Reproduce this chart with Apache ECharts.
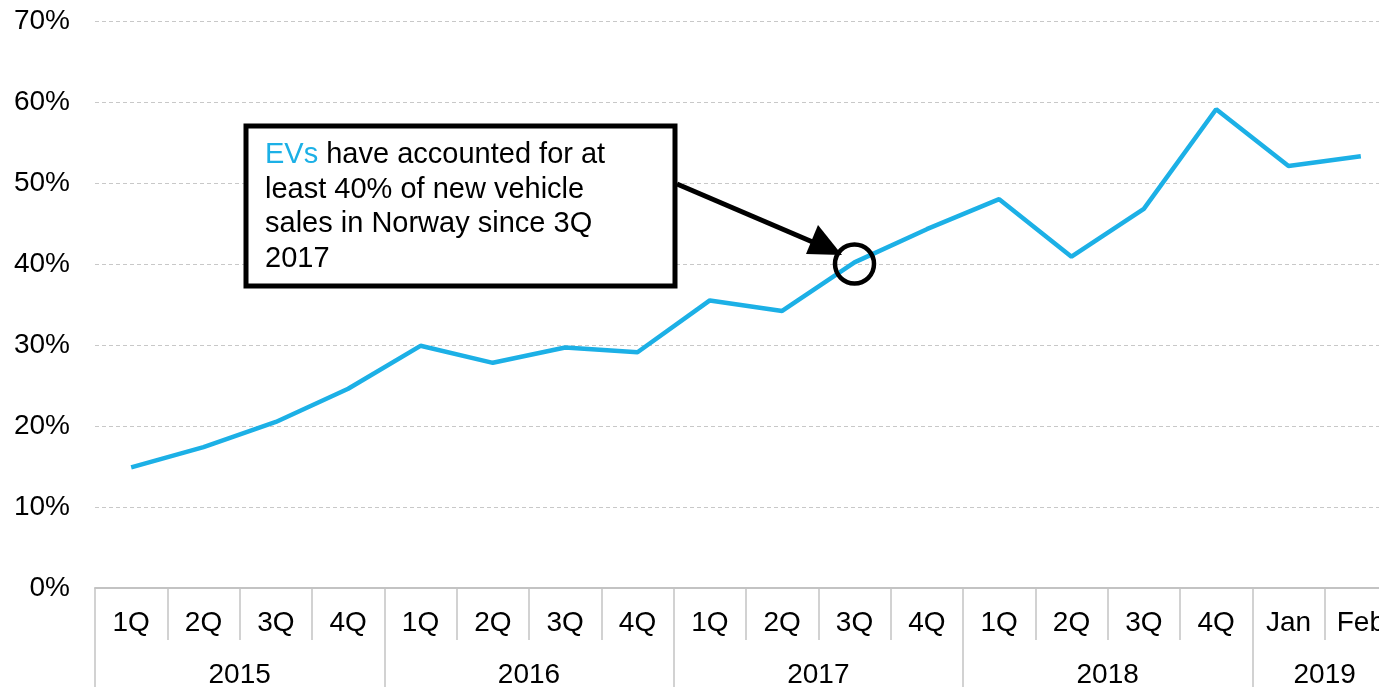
<!DOCTYPE html>
<html>
<head>
<meta charset="utf-8">
<title>EV share of new vehicle sales in Norway</title>
<script src="https://cdn.jsdelivr.net/npm/echarts@6/dist/echarts.min.js"></script>
<style>
  html, body { margin: 0; padding: 0; background: #fff; overflow: hidden; }
  /* wider than the window: the last category is cut off at the right edge */
  #chart { width: 1400px; height: 687px; }
</style>
</head>
<body>
<div id="chart"></div>
<script>
// data
const periods = ["1Q", "2Q", "3Q", "4Q", "1Q", "2Q", "3Q", "4Q", "1Q", "2Q", "3Q", "4Q", "1Q", "2Q", "3Q", "4Q", "Jan", "Feb"];
const evShare = [14.9, 17.4, 20.5, 24.6, 29.9, 27.8, 29.7, 29.1, 35.5, 34.2, 40.2, 44.3, 48.0, 40.9, 46.8, 59.1, 52.1, 53.3];
const years = ["2015", "2016", "2017", "2018", "2019"];
const yearCenters = [2, 6, 10, 14, 17];      // middle of each year group, in category units
const yearBounds = [0, 4, 8, 12, 16, 18];   // year separators
const yTicks = [0, 10, 20, 30, 40, 50, 60, 70];

// the point picked out by the note
const highlightIndex = 10;
const highlightValue = 40;

const FONT = "'Liberation Sans', Arial, Helvetica, sans-serif";
const BLUE = "#1cb0e6";
const GREY = "#c3c3c3";

const chart = echarts.init(document.getElementById("chart"), null, { renderer: "canvas" });

chart.setOption({
  animation: false,
  grid: { left: 95, width: 1302, top: 21, bottom: 99, containLabel: false, outerBoundsMode: "none" },
  xAxis: [
    {
      type: "category",
      data: periods,
      boundaryGap: true,
      axisLine: { show: true, lineStyle: { color: GREY, width: 2 } },
      axisTick: { show: true, interval: 0, length: 52, lineStyle: { color: GREY, width: 1.5 } },
      axisLabel: { interval: 0, margin: 21, fontSize: 28, color: "#000", fontFamily: FONT },
      splitLine: { show: false }
    },
    {
      type: "value",
      position: "bottom",
      offset: 52,
      min: 0,
      max: 18,
      interval: 1,
      axisLine: { show: false },
      axisTick: { show: true, customValues: yearBounds, length: 47, lineStyle: { color: GREY, width: 1.5 } },
      axisLabel: {
        customValues: yearCenters,
        margin: 21,
        fontSize: 28,
        color: "#000",
        fontFamily: FONT,
        formatter: function (v) {
          const i = yearCenters.indexOf(v);
          return i >= 0 ? years[i] : "";
        }
      },
      splitLine: { show: false }
    }
  ],
  yAxis: {
    type: "value",
    min: yTicks[0],
    max: yTicks[yTicks.length - 1],
    interval: 10,
    axisLine: { show: false },
    axisTick: { show: false },
    axisLabel: { formatter: "{value}%", margin: 25, fontSize: 28, color: "#000", fontFamily: FONT },
    splitLine: { show: true, lineStyle: { color: "#c8c8c8", width: 1, type: [4, 3] } }
  },
  series: [
    {
      name: "EV share",
      type: "line",
      data: evShare,
      showSymbol: false,
      symbol: "none",
      lineStyle: { color: BLUE, width: 4.5 },
      markPoint: {
        silent: true,
        symbol: "circle",
        symbolSize: 39,
        label: { show: false },
        itemStyle: { color: "rgba(0,0,0,0)", borderColor: "#000", borderWidth: 4.5 },
        data: [{ coord: [highlightIndex, highlightValue] }]
      }
    }
  ],
  graphic: [
    {
      type: "rect",
      shape: { x: 246, y: 126, width: 429, height: 160 },
      style: { fill: "#fff", stroke: "#000", lineWidth: 5 },
      z: 10
    },
    {
      type: "text",
      x: 265,
      y: 138,
      z: 11,
      style: {
        text: "{b|EVs} have accounted for at\nleast 40% of new vehicle\nsales in Norway since 3Q\n2017",
        fill: "#000",
        fontSize: 29,
        fontFamily: FONT,
        lineHeight: 34.5,
        verticalAlign: "top",
        rich: {
          b: { fill: BLUE, fontSize: 29, fontFamily: FONT, lineHeight: 34.5 }
        }
      }
    },
    {
      type: "line",
      shape: { x1: 677, y1: 184, x2: 815, y2: 243 },
      style: { stroke: "#000", lineWidth: 5 },
      z: 10
    },
    {
      type: "polygon",
      shape: { points: [[842, 255], [818, 225], [806, 254]] },
      style: { fill: "#000" },
      z: 10
    }
  ]
});
</script>
</body>
</html>
